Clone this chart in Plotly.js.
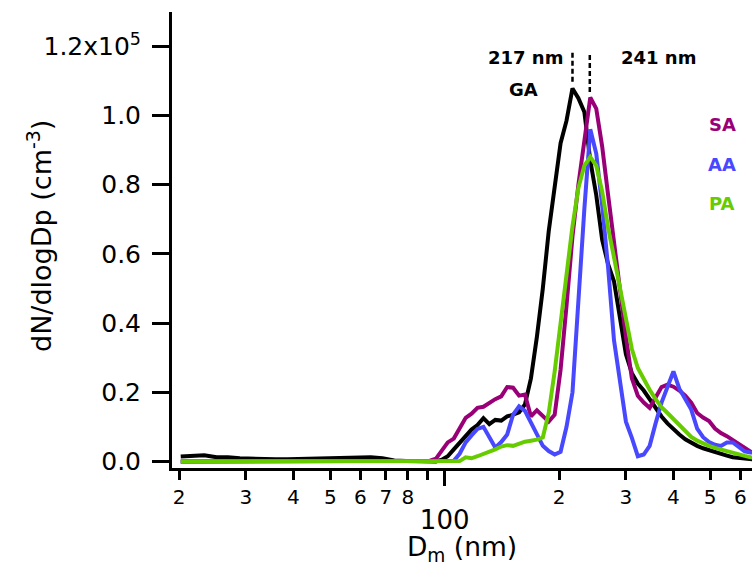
<!DOCTYPE html>
<html><head><meta charset="utf-8">
<script src="https://cdn.plot.ly/plotly-3.0.1.min.js"></script>
<style>html,body{margin:0;padding:0;background:#fff}#chart{width:752px;height:566px}</style>
</head><body><div id="chart"></div><script>
// Mobility diameter bins (nm)
const diameterNm = [20.2,21.7,23.3,25.1,26.9,28.9,31.1,33.4,35.9,38.6,41.5,44.6,47.9,51.5,55.3,59.4,63.9,68.6,73.7,79.2,85.2,88.3,
  91.5,94.9,98.3,101.9,105.7,109.5,113.6,117.7,122.0,126.5,131.1,135.9,140.9,146.1,151.4,157.0,162.7,168.7,174.9,181.3,187.9,194.8,201.9,209.3,
  217.0,224.9,233.2,241.7,250.6,259.8,269.3,279.1,289.4,300.0,311.0,322.4,334.2,346.4,359.1,372.3,385.9,400.1,414.7,429.9,445.7,462.0,478.9,496.5,514.7,533.5,553.1,573.3,594.3,616.1,638.7,662.1];

// dN/dlogDp (cm^-3)
const gaConc = [1400,1500,1800,1200,1200,900,700,600,600,600,700,600,800,900,900,1100,1200,900,300,100,0,0,
  0,0,500,1500,3500,5500,7500,9200,10500,12500,10800,12000,11800,13000,13500,14200,16500,24000,36000,50000,66500,79000,92000,98500,
  107800,105000,101000,87000,77000,64000,57000,52000,42000,31000,25500,22500,20500,18000,15500,13000,11000,9200,7800,6400,5300,4500,3800,3200,2700,2200,1700,1200,1000,800,600,500];
const saConc = [0,0,0,0,0,0,0,0,0,0,0,0,0,0,0,0,0,0,0,0,0,0,
  200,800,3000,5500,6600,9500,12600,13800,15500,15800,17000,18000,18800,21500,21300,19000,19300,13000,14800,13000,11500,13500,26500,45000,
  65000,80000,92000,105200,102000,91000,77000,63000,50000,36000,24000,19000,17000,15500,18500,21500,22200,21600,20500,19000,17000,14000,12700,11700,9500,8200,7300,6200,5000,3700,2800,2500];
const aaConc = [0,0,0,0,0,0,0,0,0,0,0,0,0,0,0,0,0,0,0,0,0,0,
  0,0,0,0,200,2200,5500,7500,9400,10000,7200,4000,5600,7800,13500,15900,14600,11400,7800,4500,3000,2000,2800,10000,
  20000,47000,73000,96000,89000,74000,56000,35000,23000,11500,6800,1500,2000,4500,11000,17000,21500,26000,21000,18000,15000,9500,7000,5600,4800,4500,5500,5500,4200,2900,2600,2500];
const paConc = [0,0,0,0,0,0,0,0,0,0,0,0,0,0,0,0,0,0,0,0,0,0,
  0,0,0,0,0,100,1200,900,1500,2100,2700,3500,4300,4700,4500,5200,5700,6000,6300,6900,14000,26000,40000,53500,
  68000,79000,85500,88000,85500,78000,67500,59000,50000,41000,32500,27000,23600,20700,18000,15700,14000,12200,10500,8800,7100,6000,5100,4500,3900,3400,3000,2500,2000,1600,1200,1000];

const seriesNames = ['GA','SA','AA','PA'];
const seriesColors = ['#000000','#990077','#4848ff','#66cc00'];

const xTickVals = [20,30,40,50,60,70,80,90,200,300,400,500,600];
const xTickText = ['2','3','4','5','6','7','8',' ','2','3','4','5','6'];
const xMajorVals = [100];
const xMajorText = ['100'];
const yTickVals = [0,20000,40000,60000,80000,100000,120000];
const yTickText = ['0.0','0.2','0.4','0.6','0.8','1.0','1.2x10<sup>5</sup>'];

const peakDiameters = [217, 241];
const peakLabels = ['217 nm','241 nm'];
const peakLineTop = [118100, 117500];
const peakLineBottom = [109000, 106500];

const FONT = 'DejaVu Sans, Arial, sans-serif';
const concs = [gaConc, saConc, aaConc, paConc];

const traces = concs.map((c, i) => ({
  type: 'scatter', mode: 'lines', x: diameterNm, y: c, name: seriesNames[i],
  line: {color: seriesColors[i], width: 4}, hoverinfo: 'skip'
}));
peakDiameters.forEach((d, i) => {
  traces.push({type: 'scatter', mode: 'lines', xaxis: 'x2', x: [d, d], y: [peakLineTop[i], peakLineBottom[i]],
    line: {color: '#000', width: 2.5, dash: '5px,3px'}, hoverinfo: 'skip', showlegend: false});
});

const xRange = [Math.log10(19.16), Math.log10(644.1)];
const axisCommon = {showgrid: false, zeroline: false, color: '#000', ticks: 'outside', tickwidth: 3, tickcolor: '#000'};

const layout = {
  width: 752, height: 566,
  margin: {l: 172, r: 0, t: 12, b: 98},
  paper_bgcolor: '#fff', plot_bgcolor: '#fff',
  showlegend: false,
  font: {family: FONT, color: '#000'},
  xaxis: Object.assign({}, axisCommon, {
    type: 'log', range: xRange, showline: true, linewidth: 3, linecolor: '#000',
    tickmode: 'array', tickvals: xTickVals, ticktext: xTickText, ticklen: 9,
    tickfont: {size: 20, family: FONT}, ticklabelstandoff: 0,
    title: {text: 'D<sub>m</sub> (nm)', font: {size: 26.5, family: FONT}, standoff: 44}
  }),
  xaxis2: Object.assign({}, axisCommon, {
    type: 'log', range: xRange, overlaying: 'x', anchor: 'y', side: 'bottom', showline: false,
    tickmode: 'array', tickvals: xMajorVals, ticktext: xMajorText, ticklen: 17,
    tickfont: {size: 26, family: FONT}, ticklabelstandoff: 12
  }),
  yaxis: Object.assign({}, axisCommon, {
    range: [-1900, 129900], showline: true, linewidth: 3, linecolor: '#000',
    tickmode: 'array', tickvals: yTickVals, ticktext: yTickText, ticklen: 17,
    tickfont: {size: 25, family: FONT}, ticklabelstandoff: 6
  }),
  annotations: [
    {xref: 'paper', yref: 'paper', x: -0.2276, y: 0.5088, text: 'dN/dlogDp (cm<sup>-3</sup>)', textangle: -90, showarrow: false, xanchor: 'center', yanchor: 'middle', font: {size: 27, family: FONT, color: '#000'}},
    {xref: 'paper', yref: 'paper', x: 0.6103, y: 0.9013, text: '<b>' + peakLabels[0] + '</b>', showarrow: false, xanchor: 'center', yanchor: 'middle', font: {size: 18, family: FONT, color: '#000'}},
    {xref: 'paper', yref: 'paper', x: 0.8388, y: 0.9013, text: '<b>' + peakLabels[1] + '</b>', showarrow: false, xanchor: 'center', yanchor: 'middle', font: {size: 18, family: FONT, color: '#000'}},
    {xref: 'paper', yref: 'paper', x: 0.6052, y: 0.830, text: '<b>GA</b>', showarrow: false, xanchor: 'center', yanchor: 'middle', font: {size: 18, family: FONT, color: seriesColors[0]}},
    {xref: 'paper', yref: 'paper', x: 0.9491, y: 0.7522, text: '<b>SA</b>', showarrow: false, xanchor: 'center', yanchor: 'middle', font: {size: 18, family: FONT, color: seriesColors[1]}},
    {xref: 'paper', yref: 'paper', x: 0.9491, y: 0.6645, text: '<b>AA</b>', showarrow: false, xanchor: 'center', yanchor: 'middle', font: {size: 18, family: FONT, color: seriesColors[2]}},
    {xref: 'paper', yref: 'paper', x: 0.9491, y: 0.580, text: '<b>PA</b>', showarrow: false, xanchor: 'center', yanchor: 'middle', font: {size: 18, family: FONT, color: seriesColors[3]}}
  ]
};

Plotly.newPlot('chart', traces, layout, {staticPlot: true, displayModeBar: false});
</script></body></html>
